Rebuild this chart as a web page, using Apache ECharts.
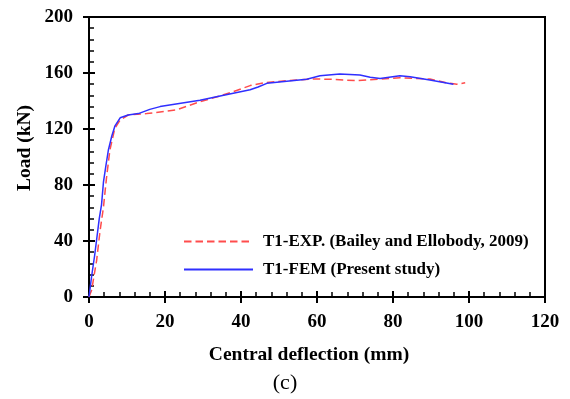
<!DOCTYPE html>
<html><head><meta charset="utf-8">
<script src="https://cdn.jsdelivr.net/npm/echarts@6/dist/echarts.min.js"></script>
<style>html,body{margin:0;padding:0;background:#fff}#c{width:570px;height:399px}</style>
</head><body><div id="c"></div>
<script>
const expX = [0, 0.7, 2.0, 2.9, 3.8, 4.6, 5.5, 6.8, 8.2, 10.3, 15.2, 23, 29.2, 34.5, 38, 42.4, 45.9, 52, 59, 64.3, 70.4, 76.6, 81.8, 89.7, 94, 96.8, 99];
const expY = [0, 5, 26, 47, 64, 85, 105, 120.5, 126.4, 130, 131, 133.6, 139.5, 143.6, 146.7, 151, 153, 154.5, 155.7, 155.5, 154.5, 155.7, 156.6, 155.7, 153, 152, 153];
const femX = [0, 0.7, 1.5, 2.7, 3.3, 3.8, 4.4, 5.1, 6.0, 6.8, 8.2, 10.3, 13, 16, 18.7, 29.2, 34.5, 42.4, 44.5, 46.8, 57.3, 60.8, 66, 71.3, 74, 76.6, 81.8, 84.5, 89.7, 95.9];
const femY = [0, 15, 30, 56, 66, 82, 93, 105, 115, 122, 128, 130, 131, 134, 136, 140.5, 143.6, 148, 150, 152.6, 155.5, 158, 159.3, 158.6, 157, 156, 158, 157.4, 155, 152];
const xTicks = [0, 20, 40, 60, 80, 100, 120];
const yTicks = [0, 40, 80, 120, 160, 200];
const seriesNames = ['T1-EXP. (Bailey and Ellobody, 2009)', 'T1-FEM (Present study)'];
const xTitle = 'Central deflection (mm)';
const yTitle = 'Load (kN)';
const caption = '(c)';

const font = 'Liberation Serif';
const gridRect = {left: 89, right: 25, top: 17, bottom: 102};
const chart = echarts.init(document.getElementById('c'));
function axisBase(min, max, interval, showLabel, inside) {
  return {
    type: 'value', min: min, max: max, interval: interval,
    axisLine: {show: showLabel, onZero: false, lineStyle: {color: '#000', width: 2}},
    axisTick: {show: true, inside: inside, length: 6, lineStyle: {color: '#000', width: 2}},
    minorTick: {show: showLabel, splitNumber: 5, length: 5, lineStyle: {color: '#000', width: 1.5}},
    splitLine: {show: false},
    axisLabel: {show: showLabel, fontFamily: font, fontWeight: 'bold', fontSize: 19, color: '#000', margin: 16}
  };
}
const xMain = Object.assign(axisBase(0, 120, 20, true, true), {gridIndex: 0});
const yMain = Object.assign(axisBase(0, 200, 40, true, true), {gridIndex: 0});
const xOut = Object.assign(axisBase(0, 120, 20, false, false), {gridIndex: 1});
const yOut = Object.assign(axisBase(0, 200, 40, false, false), {gridIndex: 1});

chart.setOption({
  animation: false,
  backgroundColor: '#fff',
  grid: [
    Object.assign({show: true, borderColor: '#000', borderWidth: 2}, gridRect),
    Object.assign({show: false}, gridRect)
  ],
  xAxis: [xMain, xOut],
  yAxis: [yMain, yOut],
  legend: {
    orient: 'vertical', left: 183, top: 233, itemWidth: 69, itemHeight: 14, itemGap: 11,
    padding: 0,
    itemStyle: {opacity: 0},
    textStyle: {fontFamily: font, fontWeight: 'bold', fontSize: 17, color: '#000', padding: [0, 0, 0, 5]},
    data: seriesNames
  },
  graphic: [
    {type: 'text', x: 309, y: 355,
     style: {text: xTitle, fontFamily: font, fontWeight: 'bold', fontSize: 19.5, fill: '#000', align: 'center', verticalAlign: 'middle'}},
    {type: 'text', x: 24.5, y: 148, rotation: Math.PI / 2,
     style: {text: yTitle, fontFamily: font, fontWeight: 'bold', fontSize: 19.5, fill: '#000', align: 'center', verticalAlign: 'middle'}},
    {type: 'text', x: 285, y: 383,
     style: {text: caption, fontFamily: font, fontSize: 22, fill: '#000', align: 'center', verticalAlign: 'middle'}}
  ],
  series: [
    {name: seriesNames[0], type: 'line', xAxisIndex: 0, yAxisIndex: 0, symbol: 'none',
     lineStyle: {color: '#ff4c4c', width: 1.5, type: [7.5, 4]}, itemStyle: {color: '#ff4c4c'},
     data: expX.map((x, i) => [x, expY[i]])},
    {name: seriesNames[1], type: 'line', xAxisIndex: 0, yAxisIndex: 0, symbol: 'none',
     lineStyle: {color: '#2f2fff', width: 1.5}, itemStyle: {color: '#2f2fff'},
     data: femX.map((x, i) => [x, femY[i]])}
  ]
});
</script></body></html>
